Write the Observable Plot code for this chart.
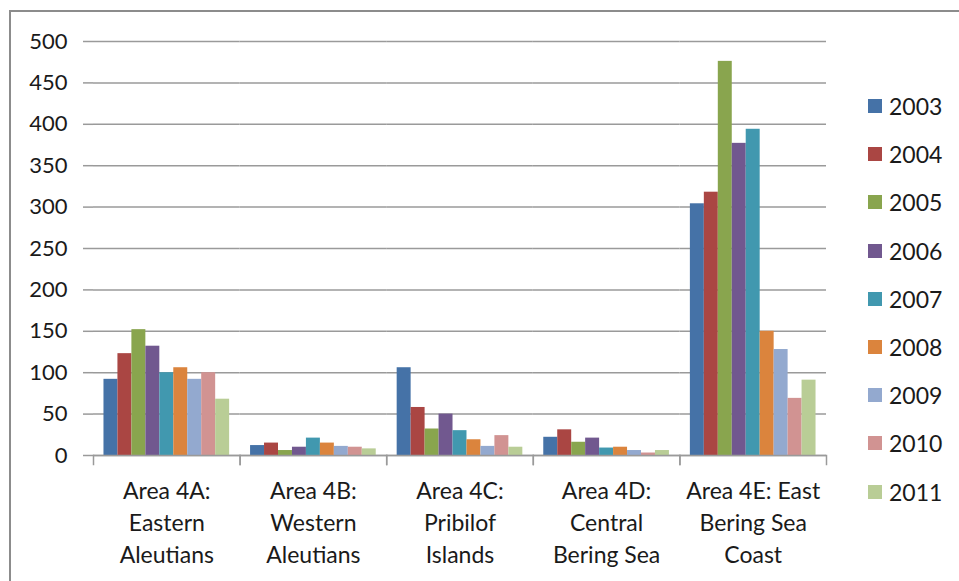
<!DOCTYPE html>
<html>
<head>
<meta charset="utf-8">
<script src="https://cdn.jsdelivr.net/npm/d3@7"></script>
<script src="https://cdn.jsdelivr.net/npm/@observablehq/plot@0.6"></script>
<style>
  html, body { margin: 0; padding: 0; background: #fff; }
  body { width: 959px; height: 581px; overflow: hidden; position: relative; font-family: Lato, "Noto Sans", sans-serif; }
  #border { position: absolute; left: 9px; top: 10px; width: 1000px; height: 620px; border: 2px solid #8c8c8c; box-sizing: border-box; }
  #chart { position: absolute; left: 0; top: 0; }
  #legend { position: absolute; left: 868px; top: 82px; }
  .row { display: flex; align-items: center; height: 48.2px; font-size: 23px; color: #1a1a1a; }
  .sw { width: 14px; height: 14px; margin-right: 7px; }
</style>
</head>
<body>
<div id="border"></div>
<div id="chart"></div>
<div id="legend"></div>
<script>
// Categories (x groups), with line breaks as shown in the reference
const areas = [
  "Area 4A:\nEastern\nAleutians",
  "Area 4B:\nWestern\nAleutians",
  "Area 4C:\nPribilof\nIslands",
  "Area 4D:\nCentral\nBering Sea",
  "Area 4E: East\nBering Sea\nCoast"
];
const years = ["2003","2004","2005","2006","2007","2008","2009","2010","2011"];
const colors = ["#4572A7","#AA4643","#89A54E","#71588F","#4198AF","#DB843D","#93A9CF","#D19392","#B9CD96"];

// Series values per year, in the order of `areas`
const s2003 = [92, 12, 106, 22, 304];
const s2004 = [123, 15, 58, 31, 318];
const s2005 = [152, 6, 32, 16, 476];
const s2006 = [132, 10, 50, 21, 377];
const s2007 = [100, 21, 30, 9, 394];
const s2008 = [106, 15, 19, 10, 150];
const s2009 = [92, 11, 11, 6, 128];
const s2010 = [100, 10, 24, 3, 69];
const s2011 = [68, 8, 10, 6, 91];
const series = [s2003, s2004, s2005, s2006, s2007, s2008, s2009, s2010, s2011];

const yTicks = [0, 50, 100, 150, 200, 250, 300, 350, 400, 450, 500];

const data = [];
areas.forEach((a, i) => years.forEach((yr, j) => data.push({area: a, year: yr, value: series[j][i]})));

const W = 840, H = 581, mT = 41, mB = 126, mL = 93, mR = 14;
const frameH = H - mT - mB;
const grey = "#9a9a9a";

const chart = Plot.plot({
  width: W, height: H,
  marginTop: mT, marginBottom: mB, marginLeft: mL, marginRight: mR,
  style: {fontFamily: "Lato, 'Noto Sans', sans-serif", fontSize: "22px", color: "#1a1a1a", overflow: "visible", background: "transparent"},
  fx: {domain: areas, padding: 0, round: false, axis: null, label: null},
  x: {domain: years, paddingInner: 0, paddingOuter: 0.75, round: false, axis: null},
  y: {domain: [0, 500], axis: null},
  color: {domain: years, range: colors},
  marks: [
    Plot.gridY(yTicks, {stroke: grey, strokeOpacity: 1, strokeWidth: 1.5}),
    Plot.barY(data, {fx: "area", x: "year", y: "value", fill: "year"}),
    Plot.ruleY([0], {stroke: grey, strokeWidth: 1.5}),
    Plot.frame({anchor: "left", stroke: grey, strokeWidth: 1.5, insetTop: frameH, insetBottom: -9}),
    Plot.frame({anchor: "right", stroke: grey, strokeWidth: 1.5, insetTop: frameH, insetBottom: -9}),
    Plot.axisY({ticks: yTicks, tickSize: 10, tickPadding: 16, stroke: grey, strokeWidth: 1.5, line: true, label: null, fontSize: 22}),
    Plot.axisFx({anchor: "bottom", tickSize: 0, tickPadding: 20, fontSize: 23, lineHeight: 1.41, label: null})
  ]
});
document.getElementById("chart").appendChild(chart);

const legend = d3.select("#legend");
years.forEach((yr, j) => {
  const row = legend.append("div").attr("class", "row");
  row.append("div").attr("class", "sw").style("background", colors[j]);
  row.append("span").text(yr);
});
</script>
</body>
</html>
